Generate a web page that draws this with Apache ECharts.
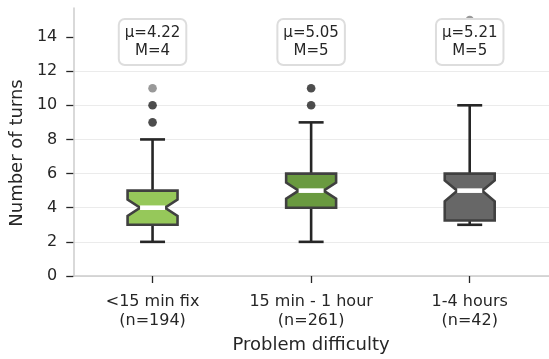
<!DOCTYPE html>
<html><head><meta charset="utf-8">
<script src="https://cdn.jsdelivr.net/npm/echarts@6/dist/echarts.min.js"></script>
<style>html,body{margin:0;padding:0;background:#fff}#c{width:549px;height:359px}</style>
</head><body><div id="c"></div>
<script>
const categories = ['<15 min fix', '15 min - 1 hour', '1-4 hours'];
const counts = [194, 261, 42];
const whiskerLow = [2, 2, 3];
const q1 = [3, 4, 3.25];
const notchLow = [3.52, 4.53, 4.38];
const medians = [4, 5, 5];
const notchHigh = [4.48, 5.47, 5.6];
const q3 = [5, 6, 6];
const whiskerHigh = [8, 9, 10];
const means = [4.22, 5.05, 5.21];
// outliers: [category index, value, number of overlapping observations]
const outliers = [[0, 9, 3], [0, 10, 3], [0, 11, 1], [1, 10, 3], [1, 11, 3], [2, 15, 1]];
const yTicks = [0, 2, 4, 6, 8, 10, 12, 14];
const annotationY = 13.71;
const yMax = 15.7;

const boxColors = ['#96c85a', '#6a9a40', '#676767'];
const FONT = 'DejaVu Sans';
const TXT = '#262626';

const chart = echarts.init(document.getElementById('c'), null, {renderer: 'canvas'});

function renderBox(params, api) {
  const i = api.value(0);
  const bw = api.size([1, 0])[0];
  const half = bw * 0.1575;
  const x = api.coord([i, api.value(4)])[0];
  const y = v => api.coord([i, v])[1];
  const L = x - half, R = x + half, nL = x - half / 2, nR = x + half / 2;
  const wl = y(api.value(1)), b1 = y(api.value(2)), nlo = y(api.value(3)),
        md = y(api.value(4)), nhi = y(api.value(5)), b3 = y(api.value(6)), wh = y(api.value(7));
  const ws = {stroke: '#262626', lineWidth: 2.6, fill: null};
  return {
    type: 'group',
    children: [
      {type: 'line', shape: {x1: x, y1: b1, x2: x, y2: wl}, style: ws},
      {type: 'line', shape: {x1: x, y1: b3, x2: x, y2: wh}, style: ws},
      {type: 'line', shape: {x1: nL, y1: wl, x2: nR, y2: wl}, style: ws},
      {type: 'line', shape: {x1: nL, y1: wh, x2: nR, y2: wh}, style: ws},
      {type: 'polygon', shape: {points: [[L, b1], [R, b1], [R, nlo], [nR, md], [R, nhi], [R, b3], [L, b3], [L, nhi], [nL, md], [L, nlo]]},
        style: {fill: boxColors[i], stroke: '#404040', lineWidth: 2.6, lineJoin: 'miter'}},
      {type: 'line', shape: {x1: nL, y1: md, x2: nR, y2: md}, style: {stroke: '#ffffff', lineWidth: 4.6}}
    ]
  };
}

function renderNote(params, api) {
  const i = api.value(0);
  const p = api.coord([i, api.value(1)]);
  return {
    type: 'text',
    x: p[0], y: p[1],
    z2: 100,
    style: {
      text: 'μ=' + means[i].toFixed(2) + '\nM=' + medians[i],
      fontSize: 15, lineHeight: 18, fontFamily: FONT, fill: TXT,
      align: 'center', verticalAlign: 'middle',
      backgroundColor: '#ffffff', borderColor: '#dddddd', borderWidth: 2, borderRadius: 5,
      padding: [4, 5, 4, 5]
    }
  };
}

const option = {
  animation: false,
  backgroundColor: '#ffffff',
  textStyle: {fontFamily: FONT},
  grid: {left: 73, right: 0, top: 8, bottom: 82, containLabel: false},
  xAxis: {
    type: 'category',
    data: categories,
    boundaryGap: true,
    axisLine: {show: true, lineStyle: {color: '#cccccc', width: 1.5}},
    axisTick: {show: true, alignWithLabel: true, length: 7, lineStyle: {color: TXT, width: 1.3}},
    axisLabel: {
      interval: 0,
      formatter: (v, i) => v + '\n(n=' + counts[i] + ')',
      fontSize: 16, lineHeight: 19, color: TXT, margin: 16, fontFamily: FONT
    },
    splitLine: {show: false},
    name: 'Problem difficulty',
    nameLocation: 'middle',
    nameGap: 60,
    nameTextStyle: {fontSize: 18, color: TXT, fontFamily: FONT}
  },
  yAxis: {
    type: 'value',
    min: 0, max: yMax, interval: 2,
    axisLine: {show: true, lineStyle: {color: '#cccccc', width: 1.5}},
    axisTick: {show: true, length: 7, customValues: yTicks, lineStyle: {color: TXT, width: 1.3}},
    axisLabel: {customValues: yTicks, fontSize: 16, color: TXT, margin: 16, fontFamily: FONT},
    splitLine: {show: true, showMaxLine: false, lineStyle: {color: '#ebebeb', width: 1}},
    name: 'Number of turns',
    nameLocation: 'middle',
    nameGap: 46,
    nameTextStyle: {fontSize: 18, color: TXT, fontFamily: FONT, padding: [0, 22, 0, 0]}
  },
  series: [
    {
      type: 'custom',
      renderItem: renderBox,
      data: categories.map((_, i) => [i, whiskerLow[i], q1[i], notchLow[i], medians[i], notchHigh[i], q3[i], whiskerHigh[i]]),
      encode: {x: 0, y: [1, 7]},
      z: 2
    },
    {
      type: 'scatter',
      symbolSize: 8.6,
      itemStyle: {color: '#333333'},
      data: outliers.map(o => ({value: [o[0], o[1]], itemStyle: {opacity: 1 - Math.pow(0.5, o[2])}})),
      z: 3
    },
    {
      type: 'custom',
      renderItem: renderNote,
      data: categories.map((_, i) => [i, annotationY]),
      encode: {x: 0, y: 1},
      z: 10
    }
  ]
};
chart.setOption(option);
</script>
</body></html>
